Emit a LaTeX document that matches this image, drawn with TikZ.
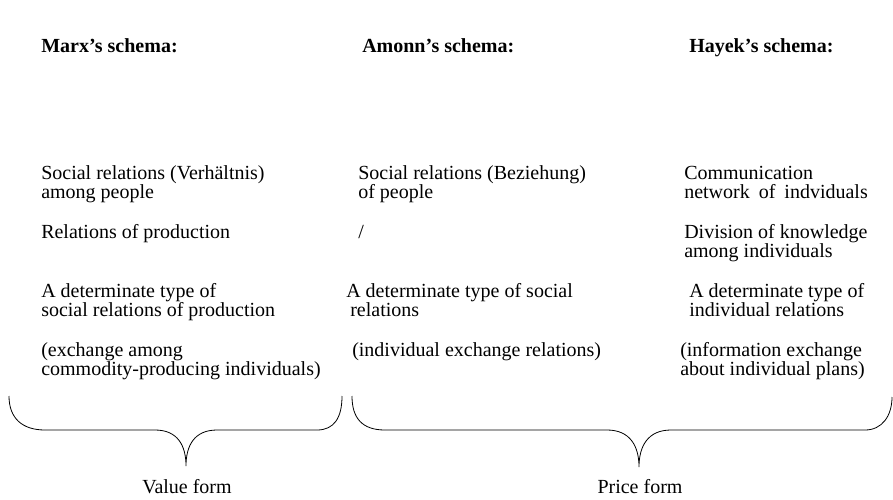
\documentclass[tikz,border=0pt]{standalone}
\usepackage{fontspec}
\setmainfont{Liberation Serif}
\begin{document}
\begin{tikzpicture}[x=0.75pt,y=-0.75pt,
  txt/.style={anchor=base west,inner sep=0pt,font=\fontsize{15}{17}\selectfont},
  hdr/.style={txt,font=\fontsize{15}{17}\selectfont\bfseries},
  lbl/.style={anchor=base,inner sep=0pt,font=\fontsize{15}{17}\selectfont},
  brace/.style={draw=black,line width=0.6pt}]
\useasboundingbox (0,0) rectangle (893,500);
% headers
\node[hdr] (h1) at (41,52) {Marx’s schema:};
\node[hdr] (h2) at (362,52) {Amonn’s schema:};
\node[hdr] (h3) at (689,52) {Hayek’s schema:};
% row 1
\node[txt] (m1a) at (41,179) {Social relations (Verhältnis)};
\node[txt] (m1b) at (41,198) {among people};
\node[txt] (a1a) at (358,179) {Social relations (Beziehung)};
\node[txt] (a1b) at (358,198) {of people};
\node[txt] (k1a) at (684,179) {Communication};
\node[txt] (k1b) at (684,198) {network\hspace{0.45em}of\hspace{0.45em}indviduals};
% row 2
\node[txt] (m2) at (41,238) {Relations of production};
\node[txt] (a2) at (358,238) {/};
\node[txt] (k2a) at (684,238) {Division of knowledge};
\node[txt] (k2b) at (684,257) {among individuals};
% row 3
\node[txt] (m3a) at (41,297) {A determinate type of};
\node[txt] (m3b) at (41,316) {social relations of production};
\node[txt] (a3a) at (346,297) {A determinate type of social};
\node[txt] (a3b) at (350,316) {relations};
\node[txt] (k3a) at (689,297) {A determinate type of};
\node[txt] (k3b) at (689,316) {individual relations};
% row 4
\node[txt] (m4a) at (41,356) {(exchange among};
\node[txt] (m4b) at (41,375) {commodity-producing individuals)};
\node[txt] (a4) at (352,356) {(individual exchange relations)};
\node[txt] (k4a) at (680,356) {(information exchange};
\node[txt] (k4b) at (680,375) {about individual plans)};
% braces
\draw[brace] (9,396) .. controls (9,418) and (22,430) .. (45,430)
  -- (155,430) .. controls (178,430) and (186,446) .. (186,466)
  .. controls (186,446) and (194,430) .. (217,430)
  -- (317,430) .. controls (334,430) and (342,418) .. (342,396);
\draw[brace] (352,396) .. controls (352,418) and (362,430) .. (385,430)
  -- (607,430) .. controls (630,430) and (639,446) .. (639,467)
  .. controls (639,446) and (648,430) .. (671,430)
  -- (865,430) .. controls (882,430) and (892,416) .. (892,397);
\node[lbl] (v) at (187,493) {Value form};
\node[lbl] (p) at (640,493) {Price form};
\end{tikzpicture}
\end{document}
